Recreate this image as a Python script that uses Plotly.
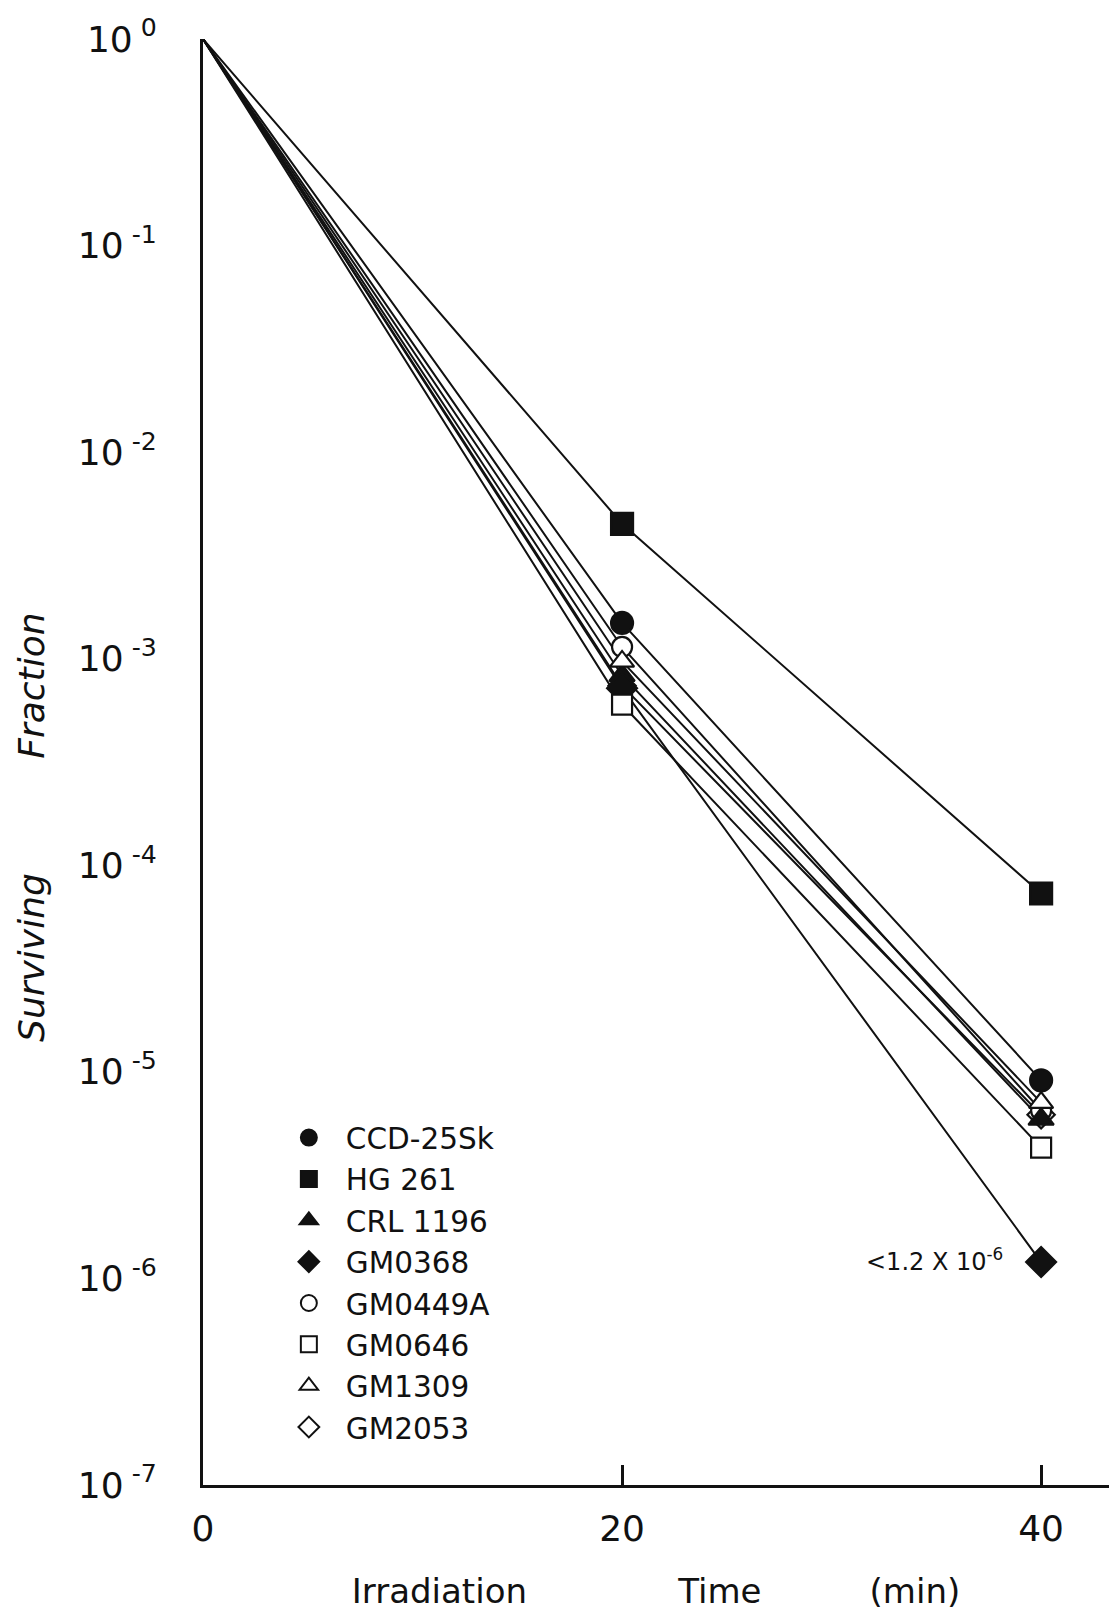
import numpy as np
import plotly.graph_objects as go

# Irradiation times (min)
times = [0, 20, 40]

# Cell lines and surviving fractions at 0, 20 and 40 min
cell_lines = ["CCD-25Sk", "HG 261", "CRL 1196", "GM0368", "GM0449A", "GM0646", "GM1309", "GM2053"]
surv_t0 = [1.0, 1.0, 1.0, 1.0, 1.0, 1.0, 1.0, 1.0]
surv_t20 = [1.49e-3, 4.5e-3, 8.3e-4, 7.2e-4, 1.14e-3, 6.0e-4, 9.7e-4, 7.4e-4]
surv_t40 = [9.1e-6, 7.3e-5, 5.9e-6, 1.2e-6, 6.5e-6, 4.3e-6, 7.1e-6, 6.2e-6]

# Axis ticks
y_tickvals = [1e0, 1e-1, 1e-2, 1e-3, 1e-4, 1e-5, 1e-6, 1e-7]
y_ticktext = ["10<sup> 0</sup>", "10<sup> -1</sup>", "10<sup> -2</sup>", "10<sup> -3</sup>",
              "10<sup> -4</sup>", "10<sup> -5</sup>", "10<sup> -6</sup>", "10<sup> -7</sup>"]
x_tickvals = [0, 20, 40]
x_ticktext = ["0", "20", "40"]

# Upper-bound note for GM0368 at 40 min
bound_label = "<1.2 X 10<sup>-6</sup>"
bound_line = "GM0368"

symbols = ["circle", "square", "triangle-up", "diamond", "circle", "square", "triangle-up", "diamond"]
filled = [True, True, True, True, False, False, False, False]
sizes = [22, 22, 22, 23, 20, 20, 21, 21]

# marker stacking order (first drawn = bottom)
draw_order = ["GM2053", "GM0449A", "CCD-25Sk", "HG 261", "CRL 1196", "GM0368", "GM1309", "GM0646"]

FONT = "DejaVu Sans"
INK = "#111111"
NB = "\u00a0"

fig = go.Figure()

# connecting lines underneath the markers
for i, name in enumerate(cell_lines):
    ys = [surv_t0[i], surv_t20[i], surv_t40[i]]
    fig.add_trace(go.Scatter(
        x=times, y=ys, mode="lines", showlegend=False, hoverinfo="skip",
        line=dict(color=INK, width=2), cliponaxis=False,
    ))

for name in draw_order:
    i = cell_lines.index(name)
    ys = [surv_t0[i], surv_t20[i], surv_t40[i]]
    face = INK if filled[i] else "white"
    fig.add_trace(go.Scatter(
        x=times[1:], y=ys[1:], mode="markers", showlegend=False, hoverinfo="skip",
        marker=dict(symbol=symbols[i], size=sizes[i], color=face,
                    line=dict(color=INK, width=2.2)),
        cliponaxis=False,
    ))

# legend entries (markers only)
for i, name in enumerate(cell_lines):
    face = INK if filled[i] else "white"
    fig.add_trace(go.Scatter(
        x=[None], y=[None], mode="markers", name=name,
        marker=dict(symbol=symbols[i], size=16, color=face,
                    line=dict(color=INK, width=2)),
    ))

k = cell_lines.index(bound_line)
fig.add_annotation(
    x=times[2], y=np.log10(surv_t40[k]), xref="x", yref="y",
    text=bound_label, showarrow=False, xanchor="right", yanchor="middle",
    xshift=-36, yshift=2, font=dict(family=FONT, size=24, color=INK),
)

fig.add_annotation(
    x=-0.19, y=0.455, xref="paper", yref="paper",
    text="Surviving" + NB * 10 + "Fraction",
    textangle=-90, showarrow=False, xanchor="center", yanchor="middle",
    font=dict(family=FONT, size=36, color=INK, style="italic"),
)

fig.update_layout(
    width=1109, height=1612,
    margin=dict(l=203, r=0, t=39, b=127, pad=0),
    paper_bgcolor="white", plot_bgcolor="white",
    font=dict(family=FONT, color=INK),
    showlegend=True,
    legend=dict(
        x=0.076, y=0.258, xanchor="left", yanchor="top",
        bgcolor="rgba(0,0,0,0)", borderwidth=0,
        font=dict(family=FONT, size=29.5, color=INK),
        itemwidth=64, tracegroupgap=0,
    ),
    xaxis=dict(
        range=[0, 43.24], showgrid=False, zeroline=False,
        showline=True, linecolor=INK, linewidth=3,
        tickmode="array", tickvals=x_tickvals, ticktext=x_ticktext,
        ticks="inside", ticklen=20, tickwidth=3, tickcolor=INK,
        ticklabelstandoff=10,
        tickfont=dict(family=FONT, size=36, color=INK),
        title=dict(text="Irradiation" + NB * 14 + "Time" + NB * 10 + "(min)",
                   font=dict(family=FONT, size=34, color=INK), standoff=31),
    ),
    yaxis=dict(
        type="log", range=[-7, 0], showgrid=False, zeroline=False,
        showline=True, linecolor=INK, linewidth=3,
        tickmode="array", tickvals=y_tickvals, ticktext=y_ticktext,
        ticks="", ticklabelstandoff=36,
        tickfont=dict(family=FONT, size=36, color=INK),
    ),
)

fig.write_html("out.html")
